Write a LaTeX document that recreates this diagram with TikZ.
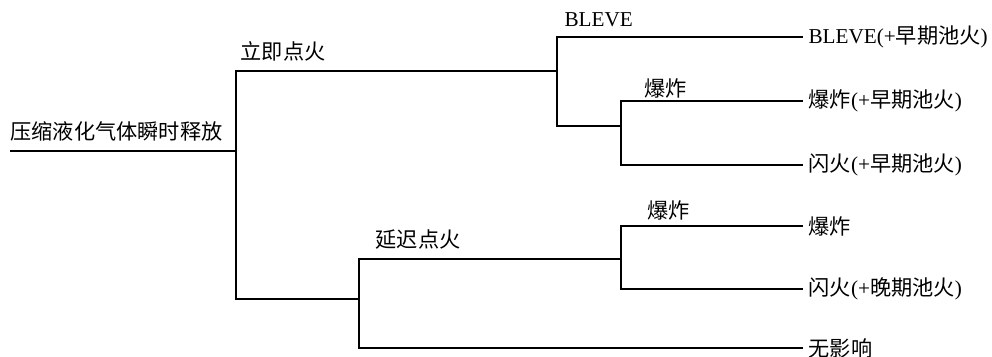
\documentclass[tikz,border=0pt]{standalone}
\usepackage{fontspec}
\setmainfont{Liberation Serif}
\newfontfamily\cjk{Noto Sans CJK SC}
\newcommand{\zh}[1]{{\cjk #1}}

\begin{document}
\begin{tikzpicture}[x=0.5pt,y=-0.5pt,line width=0.6pt,
  lab/.style={anchor=base west,inner sep=0pt,font=\fontsize{10.6}{12}\selectfont},
  outcome/.style={anchor=west,inner xsep=2.5pt,inner ysep=0pt,font=\fontsize{10.6}{12}\selectfont}]
  \useasboundingbox (0,0) rectangle (992,357);
  %BRANCH POINTS
  \coordinate (start) at (10,151);
  \coordinate (j0) at (236,151);
  \coordinate (j1) at (557,71);
  \coordinate (k1) at (621,126);
  \coordinate (j2) at (359,299);
  \coordinate (k2) at (621,259);

  %OUTCOMES
  \node[outcome] (o1) at (803,37) {BLEVE(+\zh{早期池火})};
  \node[outcome] (o2) at (803,101) {\zh{爆炸}(+\zh{早期池火})};
  \node[outcome] (o3) at (803,165) {\zh{闪火}(+\zh{早期池火})};
  \node[outcome] (o4) at (803,226) {\zh{爆炸}};
  \node[outcome] (o5) at (803,289) {\zh{闪火}(+\zh{晚期池火})};
  \node[outcome] (o6) at (803,348) {\zh{无影响}};

  %LABELS
  \node[lab] (src) at (10,140) {\zh{压缩液化气体瞬时释放}};
  \node[lab] (now) at (240,60) {\zh{立即点火}};
  \node[lab] (late) at (375,248) {\zh{延迟点火}};
  \node[lab] (bleve) at (564,27) {BLEVE};
  \node[lab] (exp1) at (644,97) {\zh{爆炸}};
  \node[lab] (exp2) at (647,219) {\zh{爆炸}};

  %TREE
  \draw (start) -- (j0);
  \draw (j0) |- (j1);
  \draw (j0) |- (j2);
  \draw (j1) |- (o1.west);
  \draw (j1) |- (k1);
  \draw (k1) |- (o2.west);
  \draw (k1) |- (o3.west);
  \draw (j2) |- (k2);
  \draw (k2) |- (o4.west);
  \draw (k2) |- (o5.west);
  \draw (j2) |- (o6.west);
\end{tikzpicture}
\end{document}
